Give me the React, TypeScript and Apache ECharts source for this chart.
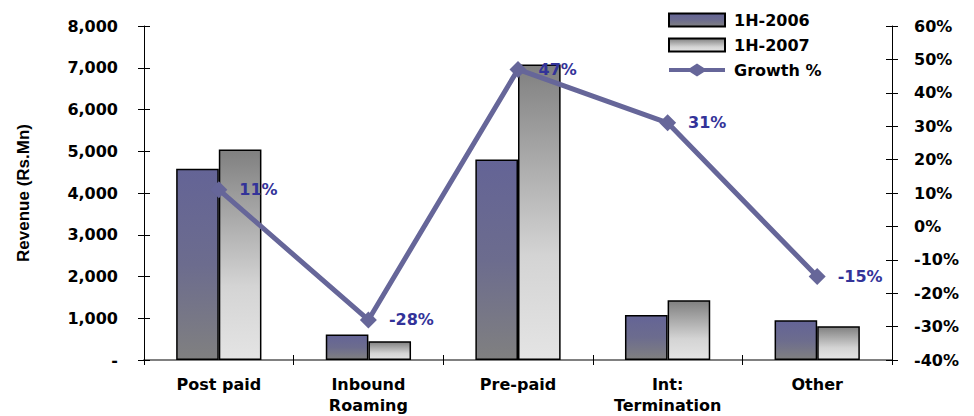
import React, { useEffect, useRef } from "react";
import * as echarts from "echarts";

// Revenue by segment (Rs. Mn) and half-year growth
const categories = ["Post paid", "Inbound\nRoaming", "Pre-paid", "Int:\nTermination", "Other"];
const revenue2006 = [4580, 610, 4800, 1080, 950];
const revenue2007 = [5040, 450, 7080, 1430, 810];
const growthPct = [11, -28, 47, 31, -15];

const seriesNames = ["1H-2006", "1H-2007", "Growth %"];

const FONT = "'DejaVu Sans', 'Liberation Sans', sans-serif";

// Legend glyph for the growth line: thick stroke with a diamond in the middle
const GROWTH_ICON =
  "path://M0,4.5 L21,4.5 L28,0 L35,4.5 L56,4.5 L56,8.5 L35,8.5 L28,13 L21,8.5 L0,8.5 Z";

function formatRevenue(v: number): string {
  if (v === 0) return "-";
  return v.toLocaleString("en-US");
}

export default function App() {
  const ref = useRef<HTMLDivElement>(null);

  useEffect(() => {
    if (!ref.current) return;
    const chart = echarts.init(ref.current, undefined, { renderer: "svg" });

    const grid = { left: 144, right: 82, top: 26, bottom: 52 };
    const labelStyle = { fontFamily: FONT, fontWeight: "bold" as const, fontSize: 16, color: "#000" };

    const bar2006 = new echarts.graphic.LinearGradient(0, 0, 0, 1, [
      { offset: 0, color: "#646496" },
      { offset: 0.5, color: "#6c6c8e" },
      { offset: 1, color: "#808080" },
    ]);
    const bar2007 = new echarts.graphic.LinearGradient(0, 0, 0, 1, [
      { offset: 0, color: "#808080" },
      { offset: 0.65, color: "#d4d4d4" },
      { offset: 1, color: "#e4e4e4" },
    ]);

    chart.setOption({
      animation: false,
      grid,
      legend: {
        orient: "vertical",
        left: 663,
        top: 7,
        itemWidth: 56,
        itemHeight: 13,
        itemGap: 9,
        data: [
          { name: seriesNames[0], icon: "rect" },
          { name: seriesNames[1], icon: "rect" },
          { name: seriesNames[2], icon: GROWTH_ICON, itemStyle: { color: "#666699", borderWidth: 0 } },
        ],
        textStyle: { ...labelStyle, padding: [0, 0, 0, 4] },
      },
      xAxis: [
        {
          type: "category",
          data: categories,
          axisLine: { onZero: false, lineStyle: { color: "#808080", width: 2 } },
          axisTick: { show: true, length: 5, lineStyle: { color: "#000" } },
          axisLabel: { ...labelStyle, margin: 14, lineHeight: 21 },
        },
        {
          type: "category",
          data: categories,
          position: "bottom",
          axisLine: { show: false, onZero: false },
          axisTick: { show: true, inside: true, length: 5, lineStyle: { color: "#000" } },
          axisLabel: { show: false },
        },
      ],
      yAxis: [
        {
          type: "value",
          min: 0,
          max: 8000,
          interval: 1000,
          name: "Revenue (Rs.Mn)",
          nameLocation: "middle",
          nameGap: 112,
          nameTextStyle: {
            fontFamily: "'Liberation Sans', Arial, sans-serif",
            fontWeight: "bold",
            fontSize: 17,
            color: "#000",
          },
          axisLine: { show: true, lineStyle: { color: "#000" } },
          axisTick: { show: true, length: 6, lineStyle: { color: "#000" } },
          splitLine: { show: false },
          axisLabel: { ...labelStyle, margin: 26, formatter: formatRevenue },
        },
        {
          type: "value",
          min: -40,
          max: 60,
          interval: 10,
          position: "right",
          axisLine: { show: true, lineStyle: { color: "#000" } },
          axisTick: { show: true, length: 6, lineStyle: { color: "#000" } },
          splitLine: { show: false },
          axisLabel: { ...labelStyle, margin: 22, formatter: (v: number) => `${v}%` },
        },
        {
          type: "value",
          min: 0,
          max: 8000,
          interval: 1000,
          position: "left",
          axisLine: { show: false },
          axisTick: { show: true, inside: true, length: 6, lineStyle: { color: "#000" } },
          splitLine: { show: false },
          axisLabel: { show: false },
        },
        {
          type: "value",
          min: -40,
          max: 60,
          interval: 10,
          position: "right",
          axisLine: { show: false },
          axisTick: { show: true, inside: true, length: 6, lineStyle: { color: "#000" } },
          splitLine: { show: false },
          axisLabel: { show: false },
        },
      ],
      series: [
        {
          name: seriesNames[0],
          type: "bar",
          data: revenue2006,
          barGap: "0%",
          barCategoryGap: "43%",
          itemStyle: { color: bar2006, borderColor: "#000", borderWidth: 1.5 },
        },
        {
          name: seriesNames[1],
          type: "bar",
          data: revenue2007,
          barGap: "0%",
          barCategoryGap: "43%",
          itemStyle: { color: bar2007, borderColor: "#000", borderWidth: 1.5 },
        },
        {
          name: seriesNames[2],
          type: "line",
          yAxisIndex: 1,
          data: growthPct,
          symbol: "diamond",
          symbolSize: 17,
          lineStyle: { color: "#666699", width: 5 },
          itemStyle: { color: "#666699" },
          label: {
            show: true,
            position: "right",
            distance: 12,
            formatter: (p: any) => `${p.value}%`,
            fontFamily: FONT,
            fontWeight: "bold",
            fontSize: 16,
            color: "#333399",
          },
          z: 5,
        },
      ],
    });

    return () => chart.dispose();
  }, []);

  return (
    <div
      ref={ref}
      style={{ position: "absolute", left: 0, top: 0, width: 974, height: 416, background: "#fff" }}
    />
  );
}
